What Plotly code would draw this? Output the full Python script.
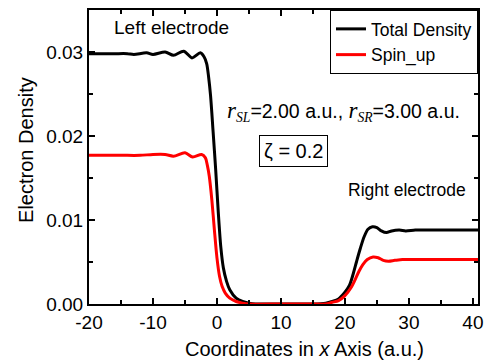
import plotly.graph_objects as go

# Total density (x, y)
total_x = [-20, -18, -16, -14, -13, -11, -10, -8.1, -6.8, -5.2, -3.9, -2.6, -2.0, -1.6, -1.3, -1.0, -0.6, -0.2, 0.2, 0.6, 1.0, 1.5, 2.0, 3.0, 4.0, 5.0, 6.0,
           10, 15, 17, 18, 19, 20, 20.7, 21.3, 21.8, 22.4, 23.0, 23.6, 24.3, 25.0, 25.7, 26.5, 27.3, 28.5, 29.5, 31, 33, 35, 37, 39, 41]
total_y = [0.0298, 0.0298, 0.0298, 0.0298, 0.0297, 0.0299, 0.0297, 0.0300, 0.0296, 0.0301, 0.0293, 0.0299, 0.0294, 0.0286, 0.0270, 0.0248, 0.0205, 0.0160, 0.0110, 0.0068, 0.0043, 0.0027, 0.0017, 0.0007, 0.0003, 0.0001, 0.0,
           0.0, 0.0, 0.0001, 0.0003, 0.0006, 0.0014, 0.0022, 0.0036, 0.0050, 0.0066, 0.0080, 0.0089, 0.0092, 0.0091, 0.0087, 0.0085, 0.0087, 0.0088, 0.0087, 0.0088, 0.0088, 0.0088, 0.0088, 0.0088, 0.0088]

# Spin-up density (x, y)
spin_x = [-20, -15, -12, -10, -8.1, -6.8, -5.0, -3.8, -2.4, -1.8, -1.5, -1.2, -0.8, -0.4, 0.0, 0.4, 0.8, 1.3, 2.0, 3.0, 4.0, 5.0,
          10, 15, 17, 18, 19, 20, 21.0, 21.6, 22.2, 22.8, 23.5, 24.4, 25.2, 26.0, 26.8, 27.8, 29, 30, 32, 35, 38, 41]
spin_y = [0.0177, 0.0177, 0.0177, 0.0178, 0.0178, 0.0176, 0.0180, 0.0175, 0.0178, 0.0174, 0.0165, 0.0152, 0.0124, 0.0088, 0.0055, 0.0033, 0.0021, 0.0013, 0.0007, 0.0003, 0.0001, 0.0,
          0.0, 0.0, 0.0, 0.0002, 0.0004, 0.0010, 0.0020, 0.0029, 0.0039, 0.0047, 0.0053, 0.0056, 0.0055, 0.0052, 0.0051, 0.0052, 0.0053, 0.0053, 0.0053, 0.0053, 0.0053, 0.0053]

x_ticks = [-20, -10, 0, 10, 20, 30, 40]
x_tick_labels = ["-20", "-10", "0", "10", "20", "30", "40"]
y_ticks = [0.00, 0.01, 0.02, 0.03]
y_tick_labels = ["0.00", "0.01", "0.02", "0.03"]

FONT = "Liberation Sans, Arial, sans-serif"

fig = go.Figure()
fig.add_trace(go.Scatter(x=total_x, y=total_y, mode="lines", name="Total Density",
                         line=dict(color="black", width=3, shape="spline", smoothing=0.8)))
fig.add_trace(go.Scatter(x=spin_x, y=spin_y, mode="lines", name="Spin_up",
                         line=dict(color="#ff0000", width=3, shape="spline", smoothing=0.8)))

axis_common = dict(showline=True, linecolor="black", linewidth=2, mirror="allticks",
                   ticks="inside", ticklen=6, tickwidth=1.5, tickcolor="black",
                   showgrid=False, zeroline=False, automargin=False,
                   tickfont=dict(family=FONT, size=19, color="black"))

fig.update_xaxes(range=[-20, 40.8], tickvals=x_ticks, ticktext=x_tick_labels,
                 minor=dict(dtick=5, ticks="inside", ticklen=4, tickcolor="black", tickwidth=1.5),
                 **axis_common)
fig.update_yaxes(range=[0, 0.035], tickvals=y_ticks, ticktext=y_tick_labels,
                 minor=dict(dtick=0.005, ticks="inside", ticklen=4, tickcolor="black", tickwidth=1.5),
                 **axis_common)

serif = "Liberation Serif, Times New Roman, serif"
r_text = (f"<span style='font-family:{serif};font-size:23px'><i>r</i></span><sub><span style='font-family:{serif}'><i>SL</i></span></sub>=2.00 a.u., "
          f"<span style='font-family:{serif};font-size:23px'><i>r</i></span><sub><span style='font-family:{serif}'><i>SR</i></span></sub>=3.00 a.u.")

annotations = [
    dict(x=-7.1, y=0.0329, text="Left electrode", showarrow=False, xanchor="center", yanchor="middle",
         font=dict(family=FONT, size=19, color="black")),
    dict(x=29.7, y=0.01357, text="Right electrode", showarrow=False, xanchor="center", yanchor="middle",
         font=dict(family=FONT, size=17.5, color="black")),
    dict(x=1.2, y=0.0229, text=r_text, showarrow=False, xanchor="left", yanchor="middle",
         font=dict(family=FONT, size=19.5, color="black")),
    dict(x=12.0, y=0.0182, text="ζ = 0.2", showarrow=False, xanchor="center", yanchor="middle",
         bordercolor="black", borderwidth=1, borderpad=4, bgcolor="white",
         font=dict(family=FONT, size=20, color="black")),
    # axis titles
    dict(xref="paper", yref="paper", x=0.553, y=-0.153, text="Coordinates in <i>x</i> Axis (a.u.)",
         showarrow=False, xanchor="center", yanchor="middle", font=dict(family=FONT, size=20, color="black")),
    dict(xref="paper", yref="paper", x=-0.162, y=0.524, text="Electron Density", textangle=-90,
         showarrow=False, xanchor="center", yanchor="middle", font=dict(family=FONT, size=20, color="black")),
]

fig.update_layout(
    width=486, height=360,
    margin=dict(l=89, r=8, t=10, b=56),
    paper_bgcolor="white", plot_bgcolor="white",
    font=dict(family=FONT, color="black"),
    annotations=annotations,
    legend=dict(x=1, y=1, xanchor="right", yanchor="top", bordercolor="black", borderwidth=1,
                bgcolor="white", font=dict(family=FONT, size=17.5, color="black"),
                tracegroupgap=0, itemwidth=30),
)

fig.write_html("out.html", config={"displayModeBar": False},
               post_script="document.body.style.margin='0';document.body.style.overflow='hidden';")
